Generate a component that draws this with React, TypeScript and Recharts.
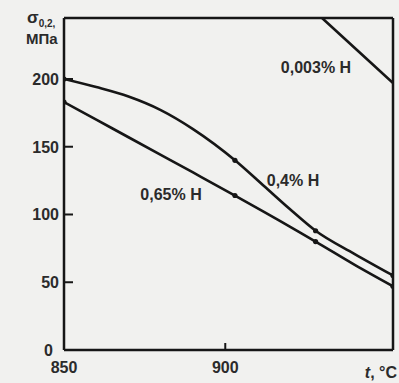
import { LineChart, Line, XAxis, YAxis } from 'recharts';

// Yield strength σ0,2 (MPa) against temperature t (°C) for three hydrogen contents
const temps = [850, 860, 870, 880, 890, 903, 912, 920, 928, 940, 952];
const sigmaH04 = [200, 194, 187, 177, 163, 140, 121, 104, 88, 71, 55];
const sigmaH065 = [183, 170, 157, 144, 131, 114, 102, 91, 80, 63, 47];

const tempsH0003 = [930, 941, 952];
const sigmaH0003 = [245, 221, 197];

// temperatures where the curves carry a point marker
const markedTemps = [850, 903, 928, 952];

const xTicks = [850, 900];
const yTicks = [0, 50, 100, 150, 200];

const toRows = (xs: number[], ys: number[]) => xs.map((t, i) => ({ t, s: ys[i] }));

const rowsH04 = toRows(temps, sigmaH04);
const rowsH065 = toRows(temps, sigmaH065);
const rowsH0003 = toRows(tempsH0003, sigmaH0003);

const INK = '#161616';
const TEXT = '#2b2b2b';
const FONT = '"Liberation Sans", Arial, sans-serif';

const MarkerDot = (props: any) => {
  const { cx, cy, payload, index } = props;
  if (!markedTemps.includes(payload.t)) return <g key={index} />;
  return <circle key={index} cx={cx} cy={cy} r={2.6} fill={INK} />;
};

const YTick = (props: any) => {
  const { x, y, payload } = props;
  const v = payload.value;
  return (
    <g>
      {v !== 0 && <line x1={x} x2={x + 9} y1={y} y2={y} stroke={INK} strokeWidth={2} />}
      <text
        x={v === 0 ? x - 11 : x - 5}
        y={y}
        dy={6}
        textAnchor="end"
        fill={TEXT}
        fontSize={16}
        fontWeight={700}
        fontFamily={FONT}
      >
        {v}
      </text>
    </g>
  );
};

const XTick = (props: any) => {
  const { x, y, payload } = props;
  const v = payload.value;
  return (
    <g>
      {v !== 850 && <line x1={x} x2={x} y1={y} y2={y - 7} stroke={INK} strokeWidth={2} />}
      <text x={x} y={y} dy={23} textAnchor="middle" fill={TEXT} fontSize={16} fontWeight={700} fontFamily={FONT}>
        {v}
      </text>
    </g>
  );
};

const labelStyle = { fill: TEXT, fontSize: 16, fontWeight: 700, fontFamily: FONT };
const frame = { stroke: INK, strokeWidth: 2.5 };

export default function App() {
  return (
    <div style={{ position: 'absolute', left: 0, top: 0, width: 399, height: 383, background: '#f1f1ef' }}>
      <LineChart width={399} height={383} data={rowsH04} margin={{ top: 17, right: 5, bottom: 0, left: 0 }}>
        <XAxis
          dataKey="t"
          type="number"
          domain={[850, 952]}
          ticks={xTicks}
          allowDataOverflow
          height={33}
          tickSize={0}
          tickMargin={0}
          tickLine={false}
          tick={<XTick />}
          axisLine={frame}
        />
        <XAxis
          xAxisId="top"
          orientation="top"
          type="number"
          domain={[850, 952]}
          height={1}
          tick={false}
          tickLine={false}
          axisLine={frame}
        />
        <YAxis
          type="number"
          domain={[0, 245]}
          ticks={yTicks}
          allowDataOverflow
          width={64}
          tickSize={0}
          tickMargin={0}
          tickLine={false}
          tick={<YTick />}
          axisLine={frame}
        />
        <YAxis
          yAxisId="right"
          orientation="right"
          type="number"
          domain={[0, 245]}
          width={1}
          tick={false}
          tickLine={false}
          axisLine={frame}
        />

        <Line
          data={rowsH04}
          dataKey="s"
          type="monotone"
          stroke={INK}
          strokeWidth={2.6}
          dot={<MarkerDot />}
          activeDot={false}
          isAnimationActive={false}
        />
        <Line
          data={rowsH065}
          dataKey="s"
          type="monotone"
          stroke={INK}
          strokeWidth={2.6}
          dot={<MarkerDot />}
          activeDot={false}
          isAnimationActive={false}
        />
        <Line
          data={rowsH0003}
          dataKey="s"
          type="monotone"
          stroke={INK}
          strokeWidth={2.6}
          dot={false}
          activeDot={false}
          isAnimationActive={false}
        />

        {/* curve labels */}
        <text x={316} y={73} textAnchor="middle" {...labelStyle}>0,003% H</text>
        <text x={293} y={186} textAnchor="middle" {...labelStyle}>0,4% H</text>
        <text x={171} y={200} textAnchor="middle" {...labelStyle}>0,65% H</text>

        {/* axis titles */}
        <text x={27} y={23} fill={TEXT} fontFamily={FONT} fontWeight={700}>
          <tspan fontSize={17}>σ</tspan>
          <tspan fontSize={10} dy={4}>0,2</tspan>
          <tspan fontSize={10}>,</tspan>
        </text>
        <text x={26} y={44} fontSize={15} fill={TEXT} fontFamily={FONT} fontWeight={700}>МПа</text>
        <text x={397} y={378} textAnchor="end" {...labelStyle}>
          <tspan fontStyle="italic">t</tspan>, °C
        </text>
      </LineChart>
    </div>
  );
}
